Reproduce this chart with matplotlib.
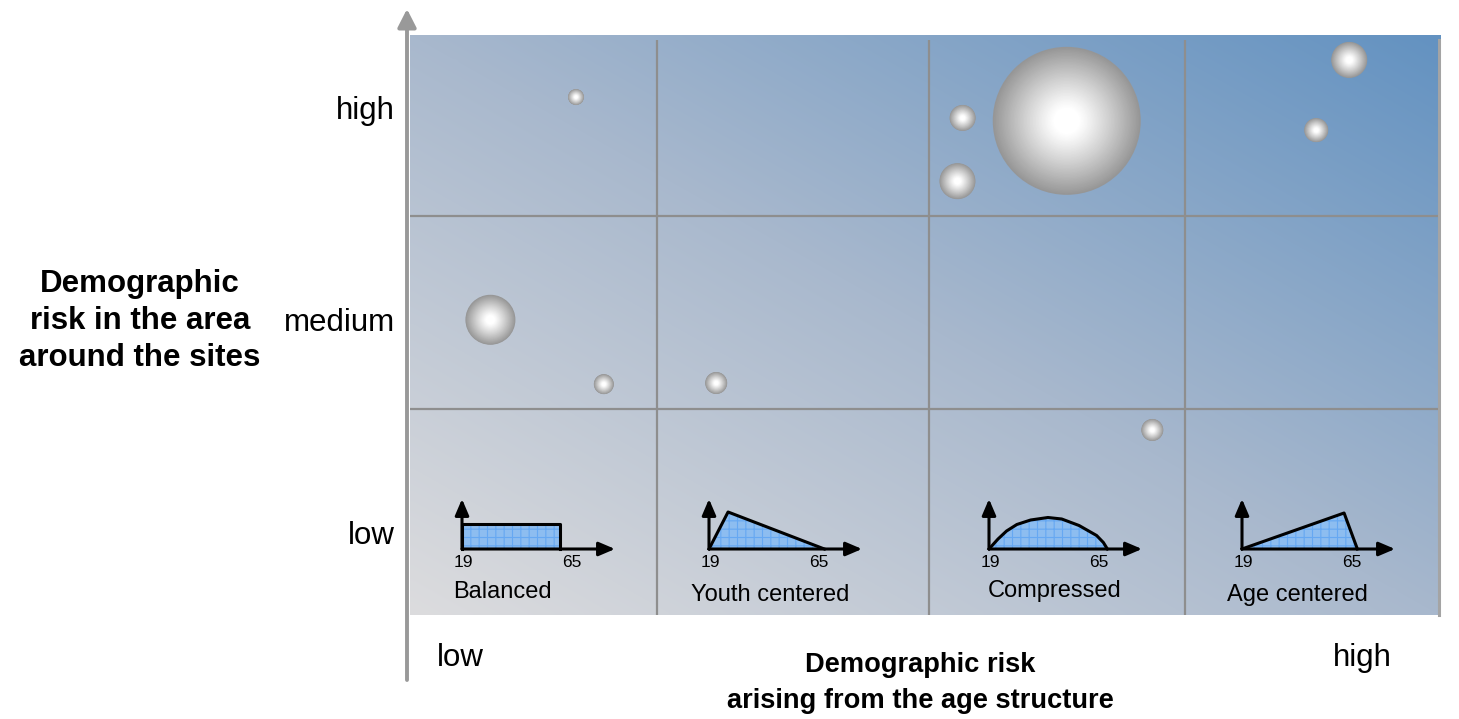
import numpy as np
import matplotlib
matplotlib.use("Agg")
import matplotlib.pyplot as plt
from matplotlib.colors import LinearSegmentedColormap

plt.rcParams['font.family'] = ['Liberation Sans', 'DejaVu Sans']
plt.rcParams['hatch.linewidth'] = 0.8

# ---------------- data ----------------
row_labels = ["low", "medium", "high"]
col_labels = ["low", "high"]
y_title = "Demographic\nrisk in the area\naround the sites"
x_title = "Demographic risk\narising from the age structure"

# bubbles: age-structure risk (0-100), area risk (0-100), bubble radius
bubble_x = [16.1, 7.8, 18.8, 29.7, 53.6, 53.1, 63.7, 91.1, 87.9, 72.0]
bubble_y = [89.3, 50.9, 39.8, 40.0, 85.7, 74.8, 85.2, 95.7, 83.6, 31.9]
bubble_r = [8, 25, 10, 11, 13, 18, 74, 18, 12, 11]

# age-structure profiles (age, relative height)
profile_names = ["Balanced", "Youth centered", "Compressed", "Age centered"]
profile_ages = [
    [19, 19, 58, 58],
    [19, 26.6, 65],
    [19, 22.6, 26.0, 30.1, 35.6, 42.5, 48.0, 54.9, 61.9, 64.6, 66.2],
    [19, 59.7, 65],
]
profile_heights = [
    [0, 0.5, 0.5, 0],
    [0, 0.74, 0],
    [0, 0.20, 0.36, 0.49, 0.58, 0.63, 0.60, 0.47, 0.27, 0.13, 0],
    [0, 0.72, 0],
]
age_ticks = [19, 65]

# ---------------- layout ----------------
W, H = 1459, 719
fig = plt.figure(figsize=(W / 100, H / 100), dpi=100)
fig.patch.set_facecolor("white")

def fig_rect(x0, y0, x1, y1):
    return [x0 / W, (H - y1) / H, (x1 - x0) / W, (y1 - y0) / H]

# overlay in pixel units for axis arrows and labels
lay = fig.add_axes([0, 0, 1, 1], zorder=3)
lay.set_xlim(0, W)
lay.set_ylim(H, 0)
lay.set_axis_off()

# main panel
PX0, PY0, PX1, PY1 = 410, 35, 1441, 615
ax = fig.add_axes(fig_rect(PX0, PY0, PX1, PY1), zorder=1)
ax.set_xlim(0, 100)
ax.set_ylim(0, 100)
ax.set_axis_off()

# background diagonal gradient
cmap = LinearSegmentedColormap.from_list("bg", ["#dcdcde", "#a8b8cd", "#6392c1"])
gx, gy = np.meshgrid(np.linspace(0, 1, 256), np.linspace(0, 1, 256))
ax.imshow((gx + gy) / 2, extent=(0, 100, 0, 100), origin="lower", cmap=cmap,
          aspect="auto", interpolation="bicubic", zorder=0)

# grid lines
x_edges = [(657 - PX0) / (PX1 - PX0) * 100, (929 - PX0) / (PX1 - PX0) * 100,
           (1185 - PX0) / (PX1 - PX0) * 100]
y_edges = [(PY1 - 409) / (PY1 - PY0) * 100, (PY1 - 216) / (PY1 - PY0) * 100]
top_gap = 100 - 5 / (PY1 - PY0) * 100
for xe in x_edges:
    ax.plot([xe, xe], [0, top_gap], color="#8e8e8e", lw=1.6, zorder=1, solid_capstyle="butt")
for ye in y_edges:
    ax.plot([0, 100], [ye, ye], color="#8e8e8e", lw=1.6, zorder=1, solid_capstyle="butt")
ax.plot([99.85, 99.85], [0, top_gap], color="#a4a4a4", lw=2.2, zorder=1, clip_on=False)

# shaded bubbles (layered discs)
bx = np.array(bubble_x)
by = np.array(bubble_y)
base_s = (1.44 * np.array(bubble_r, dtype=float)) ** 2
N = 50
for k in range(N):
    rho = 1 - k / N
    t = max(0.0, (rho - 0.18) / 0.82)
    b = 1 - 0.41 * t ** 1.1
    ax.scatter(bx, by, s=base_s * rho ** 2, color=(b, b, b), linewidths=0, zorder=2 + k * 0.001)

# axes arrows (gray)
gray = "#999999"
lay.annotate("", xy=(407, 9), xytext=(407, 680),
             arrowprops=dict(arrowstyle="-|>,head_length=0.55,head_width=0.28", lw=2.8,
                             color=gray, shrinkA=0, shrinkB=0, mutation_scale=20))
lay.annotate("", xy=(1474, 617), xytext=(337, 617),
             arrowprops=dict(arrowstyle="-|>,head_length=0.55,head_width=0.28", lw=2.8,
                             color=gray, shrinkA=0, shrinkB=0, mutation_scale=20))

# row / column labels
row_y = [536, 323, 111]
for lab, yy in zip(row_labels, row_y):
    lay.text(395, yy, lab, ha="right", va="center", fontsize=22.5)
col_x = [460, 1362]
for lab, xx in zip(col_labels, col_x):
    lay.text(xx, 658, lab, ha="center", va="center", fontsize=22.5)

lay.text(140, 321, y_title, ha="center", va="center", fontsize=22.5,
         fontweight="bold", linespacing=1.3)
lay.text(920, 683, x_title, ha="center", va="center", fontsize=19.6,
         fontweight="bold", linespacing=1.55)

# inset profiles
inset_x0 = [462, 709, 989, 1242]
name_pos = [(502, 592), (770, 595), (1055, 591), (1297, 595)]
for i in range(4):
    x0 = inset_x0[i]
    ia = fig.add_axes(fig_rect(x0, 499, x0 + 153, 549), zorder=4)
    ia.set_xlim(19, 80)
    ia.set_ylim(0, 1)
    ia.set_axis_off()
    ages = profile_ages[i]
    hts = profile_heights[i]
    ia.fill(ages, hts, facecolor="#8dbdf0", edgecolor="#66a8f2", hatch="++",
            linewidth=0, zorder=1)
    ia.plot(ages, hts, color="black", lw=2.2, zorder=2, clip_on=False,
            solid_joinstyle="round")
    ia.annotate("", xy=(80, 0), xytext=(19, 0),
                arrowprops=dict(arrowstyle="-|>,head_length=0.75,head_width=0.32", lw=2.2,
                                color="black", shrinkA=0, shrinkB=0, mutation_scale=13))
    ia.annotate("", xy=(19, 1), xytext=(19, 0),
                arrowprops=dict(arrowstyle="-|>,head_length=0.75,head_width=0.32", lw=2.2,
                                color="black", shrinkA=0, shrinkB=0, mutation_scale=13))
    for a in age_ticks:
        ia.annotate(str(a), xy=(a, 0), xytext=(-4 if a == 65 else 1, -9.5),
                    textcoords="offset points", ha="center", va="center",
                    fontsize=12.5, annotation_clip=False)
    lay.text(name_pos[i][0], name_pos[i][1], profile_names[i], ha="center",
             va="center", fontsize=17)

fig.savefig("out.png", dpi=100)
